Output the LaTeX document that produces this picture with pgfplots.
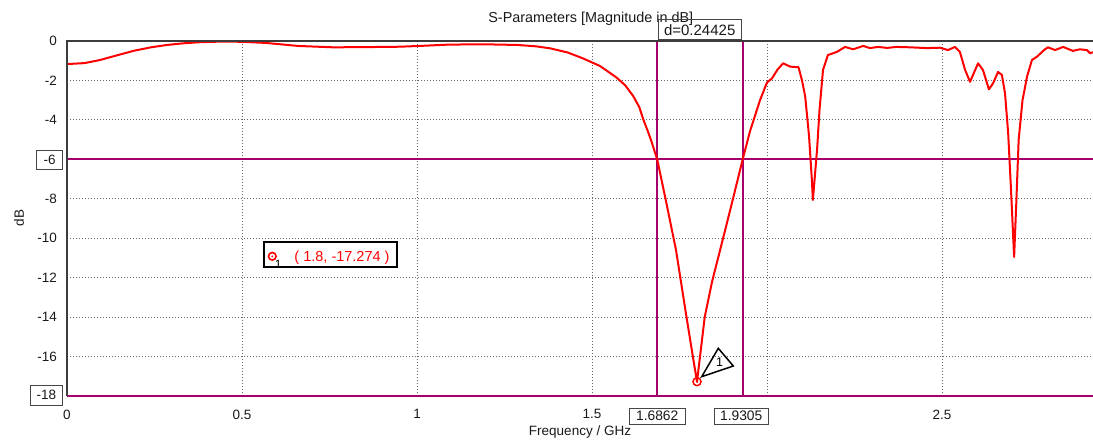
\documentclass[border=0pt]{standalone}
\usepackage{fontspec}
\setmainfont{Liberation Sans}
\usepackage{pgfplots}
\pgfplotsset{compat=1.18}
\definecolor{mag}{RGB}{165,0,110}
\definecolor{axgray}{RGB}{60,60,60}
\definecolor{boxgray}{RGB}{70,70,70}

\begin{document}
\begin{tikzpicture}[x=1pt,y=1pt]
\useasboundingbox (0,0) rectangle (1093,-440);
\begin{axis}[
  at={(67pt,-41pt)}, anchor=north west,
  scale only axis, width=1026pt, height=355pt,
  xmin=0, xmax=2.9314, ymin=-18, ymax=0,
  xtick={0,0.5,1,1.5,2,2.5}, xticklabels={0,0.5,1,1.5,,2.5},
  ytick={-18,-16,-14,-12,-10,-8,-6,-4,-2,0},
  yticklabels={,-16,-14,-12,-10,-8,,-4,-2,0},
  grid=major,
  grid style={black!60, line width=1pt, dash pattern=on 1pt off 2pt},
  axis line style={draw=none},
  tick style={draw=none},
  ticklabel style={font=\fontsize{13.5}{15}\selectfont, text=black!90},
  xticklabel style={anchor=north, inner sep=0pt, yshift=-13.5pt},
  yticklabel style={anchor=east, inner sep=0pt, xshift=-10pt},
  clip=false,
]
\addplot[mag, line width=2pt, forget plot] coordinates {(0,-6) (2.9314,-6)};
\addplot[mag, line width=2pt, forget plot] coordinates {(0,-18) (2.9314,-18)};
\addplot[mag, line width=2pt, forget plot] coordinates {(1.6862,-18) (1.6862,0)};
\addplot[mag, line width=2pt, forget plot] coordinates {(1.9305,-18) (1.9305,0)};
\addplot[red, line width=2pt, line join=round, no marks] coordinates {
(0,-1.17) (0.05,-1.12) (0.095,-0.96) (0.14,-0.74) (0.19,-0.5) (0.24,-0.32)
(0.286,-0.2) (0.33,-0.12) (0.38,-0.06) (0.44,-0.03) (0.5,-0.04) (0.57,-0.1)
(0.66,-0.25) (0.76,-0.32) (0.85,-0.31) (0.95,-0.29) (1.02,-0.24) (1.094,-0.18)
(1.2,-0.17) (1.286,-0.2) (1.34,-0.27) (1.38,-0.37) (1.43,-0.58) (1.474,-0.88)
(1.523,-1.27) (1.57,-1.85) (1.595,-2.25) (1.618,-2.8) (1.635,-3.35) (1.647,-4.0)
(1.66,-4.6) (1.67,-5.1) (1.6862,-6.0) (1.71,-8.0) (1.74,-10.6) (1.77,-14.0)
(1.79,-16.2) (1.8,-17.274) (1.822,-14.0) (1.843,-12.2) (1.866,-10.6)
(1.9,-8.2) (1.9305,-6.0) (1.951,-4.6) (1.98,-3.0) (2.0,-2.1) (2.014,-1.9)
(2.03,-1.45) (2.046,-1.13) (2.066,-1.3) (2.09,-1.33) (2.1,-2.0) (2.109,-2.8)
(2.12,-4.8) (2.128,-7.0) (2.131,-8.06) (2.136,-7.0) (2.143,-5.5) (2.15,-3.5)
(2.16,-1.47) (2.174,-0.71) (2.189,-0.62) (2.2,-0.55) (2.223,-0.3) (2.246,-0.42)
(2.275,-0.25) (2.294,-0.36) (2.317,-0.3) (2.343,-0.35) (2.37,-0.3) (2.409,-0.32)
(2.457,-0.36) (2.494,-0.34) (2.517,-0.46) (2.537,-0.3) (2.551,-0.55) (2.566,-1.47)
(2.58,-2.07) (2.603,-1.13) (2.617,-1.47) (2.634,-2.45) (2.646,-2.14) (2.66,-1.57)
(2.671,-1.72) (2.68,-2.65) (2.689,-4.67) (2.697,-7.5) (2.706,-10.95) (2.712,-8.3)
(2.719,-5.0) (2.73,-3.0) (2.743,-1.8) (2.757,-0.96) (2.771,-0.8) (2.794,-0.42)
(2.803,-0.32) (2.823,-0.46) (2.846,-0.3) (2.874,-0.5) (2.894,-0.42) (2.914,-0.46)
(2.923,-0.62) (2.9314,-0.57)
};
\addplot[red, only marks, mark=o, mark size=4pt, line width=1.5pt, forget plot] coordinates {(1.8,-17.274)};
\addplot[red, only marks, mark=*, mark size=0.8pt, forget plot] coordinates {(1.8,-17.274)};
\end{axis}
% axis frame lines
\draw[axgray, line width=1.5pt] (67,-396) -- (67,-41) -- (1093,-41);
% title and axis labels
\node[font=\fontsize{14.4}{16}\selectfont, text=black!90, inner sep=0pt] at (590.8,-18.5) {S-Parameters [Magnitude in dB]};
\node[font=\fontsize{13.5}{15}\selectfont, text=black!90, rotate=90] at (19,-218) {dB};
\node[font=\fontsize{13.5}{15}\selectfont, text=black!90, anchor=base, inner sep=0pt] at (580,-435.5) {Frequency / GHz};
% boxed value labels
\draw[boxgray, line width=1pt] (658.3,-19) rectangle (741,-39.3);
\node[font=\fontsize{15}{16}\selectfont, text=black!90, inner sep=0pt] at (699.7,-30) {d=0.24425};
\draw[boxgray, line width=1pt] (36.7,-150) rectangle (62.7,-169);
\node[font=\fontsize{13.5}{15}\selectfont, text=black!90] at (49.7,-159.5) {-6};
\draw[boxgray, line width=1pt] (30,-385) rectangle (62.7,-405.7);
\node[font=\fontsize{13.5}{15}\selectfont, text=black!90] at (46.3,-395.3) {-18};
\draw[boxgray, line width=1pt] (629.3,-408.3) rectangle (685,-424);
\node[font=\fontsize{13.8}{15}\selectfont, text=black!90] at (657.2,-416.2) {1.6862};
\draw[boxgray, line width=1pt] (714,-408.3) rectangle (768.3,-424);
\node[font=\fontsize{13.8}{15}\selectfont, text=black!90] at (741.2,-416.2) {1.9305};
% marker pointer triangle
\draw[black, line width=1.5pt, line join=miter] (701.7,-376.7) -- (718.3,-348.3) -- (733.3,-366) -- cycle;
\node[font=\fontsize{12.5}{14}\selectfont, text=black] at (719.5,-362) {1};
% marker readout box
\draw[black, line width=2pt] (264.3,-241.7) rectangle (396.7,-266.7);
\draw[red, line width=1.6pt] (272.3,-256.3) circle (3.8);
\fill[red] (272.3,-256.3) circle (1);
\node[font=\fontsize{12}{13}\selectfont, text=black] at (278.3,-264.6) {1};
\node[font=\fontsize{14.5}{16}\selectfont, text=red] at (342,-257.7) {( 1.8, -17.274 )};
\end{tikzpicture}
\end{document}
